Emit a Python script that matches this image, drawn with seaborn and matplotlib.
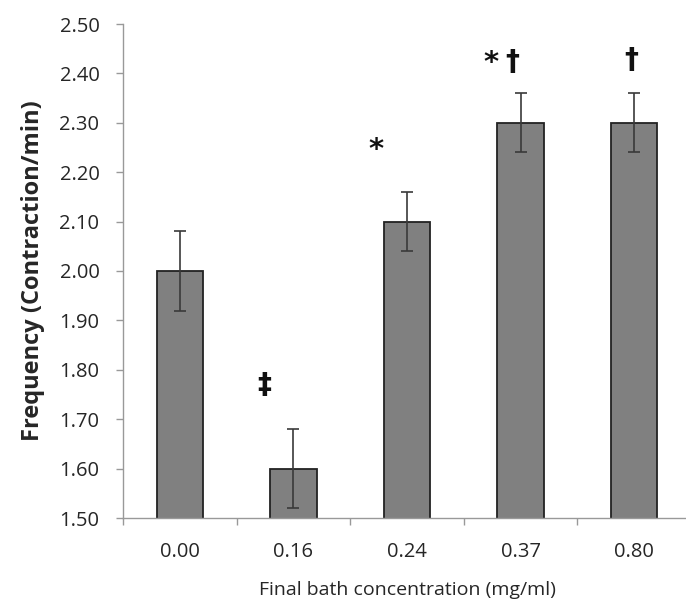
import matplotlib
matplotlib.use("Agg")
import matplotlib.pyplot as plt
import seaborn as sns
import pandas as pd
import numpy as np

categories = ["0.00", "0.16", "0.24", "0.37", "0.80"]
values = [2.00, 1.60, 2.10, 2.30, 2.30]
errors = [0.08, 0.08, 0.06, 0.06, 0.06]
y_ticks = [1.50, 1.60, 1.70, 1.80, 1.90, 2.00, 2.10, 2.20, 2.30, 2.40, 2.50]
# significance marks: (category index, symbol, x offset, y value)
sig_cat = [1, 2, 3, 3, 4]
sig_sym = ["‡", "*", "*", "†", "†"]
sig_dx = [-0.26, -0.27, -0.26, -0.07, -0.03]
sig_y = [1.769, 2.245, 2.421, 2.424, 2.428]

sns.set_theme(style="white")
plt.rcParams['font.family'] = ['Open Sans', 'DejaVu Sans']

df = pd.DataFrame({"conc": categories, "freq": values})

fig = plt.figure(figsize=(6.86, 6.05), dpi=100)
ax = fig.add_axes([123 / 686, 1 - 518 / 605, 568 / 686, 494 / 605])

sns.barplot(data=df, x="conc", y="freq", color="#808080", saturation=1,
            width=0.41, edgecolor="#222222", linewidth=1.3, errorbar=None, ax=ax)

xs = np.arange(len(categories))
ax.errorbar(xs, values, yerr=errors, fmt="none", ecolor="#3a3a3a",
            elinewidth=1.2, capsize=4.5, capthick=1.2)

ax.set_ylim(1.50, 2.50)
ax.set_xlim(-0.5, len(categories) - 0.5)
ax.set_yticks(y_ticks)
ax.set_yticklabels([f"{t:.2f}" for t in y_ticks], fontsize=14.5)
ax.set_xticks(xs)
ax.set_xticklabels(categories, fontsize=14.5)
ax.set_xticks(np.arange(-0.5, len(categories)), minor=True)
ax.tick_params(axis="x", which="major", length=0, pad=17)
ax.tick_params(axis="x", which="minor", length=5, width=1, color="#999999", direction="out", bottom=True)
ax.tick_params(axis="y", which="major", length=5, width=1, color="#999999", direction="out", left=True, pad=12)

for s in ["top", "right"]:
    ax.spines[s].set_visible(False)
for s in ["left", "bottom"]:
    ax.spines[s].set_color("#999999")
    ax.spines[s].set_linewidth(1.0)

ax.set_xlabel("Final bath concentration (mg/ml)", fontsize=14, labelpad=14)
ax.set_ylabel("Frequency (Contraction/min)", fontsize=17, fontweight="bold", labelpad=10)

for c, sym, dx, yv in zip(sig_cat, sig_sym, sig_dx, sig_y):
    fs = 21 if sym == "*" else 20
    ax.text(c + dx, yv, sym, ha="center", va="center", fontsize=fs,
            fontweight="bold", color="#111111", family=["DejaVu Sans"])

fig.savefig("out.png", dpi=100)
